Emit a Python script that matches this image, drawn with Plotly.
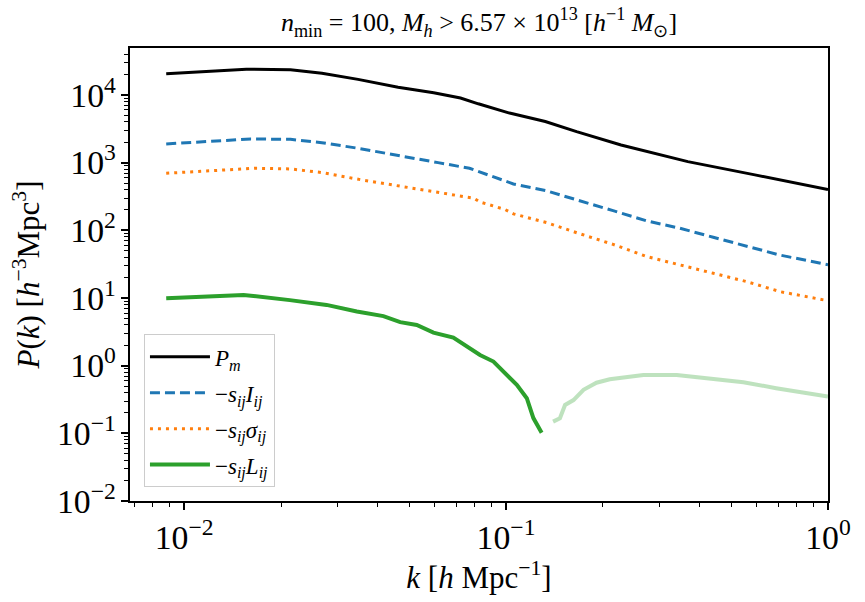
import plotly.graph_objects as go

# ---- data ----
k_pm = [0.0088, 0.0156, 0.0214, 0.0268, 0.0347, 0.0462, 0.0596, 0.0722, 0.082,
        0.1025, 0.1324, 0.1656, 0.2276, 0.367, 0.593, 1.0]
p_pm = [20500, 24000, 23500, 21000, 17000, 13000, 10800, 9000, 7400,
        5400, 4060, 2870, 1820, 1035, 660, 400]

k_I = [0.0088, 0.0161, 0.0214, 0.0268, 0.0347, 0.0462, 0.0615, 0.077, 0.083, 0.0962,
       0.1054, 0.133, 0.170, 0.215, 0.273, 0.347, 0.44, 0.56, 0.71, 1.0]
p_I = [1890, 2240, 2210, 1970, 1630, 1260, 1000, 826, 730, 570,
       484, 385, 275, 195, 138, 107, 79, 57.5, 43, 31]

k_sig = [0.0088, 0.0166, 0.0214, 0.0268, 0.0357, 0.049, 0.0636, 0.0794, 0.083, 0.099,
         0.1054, 0.1337, 0.170, 0.215, 0.273, 0.347, 0.44, 0.56, 0.71, 1.0]
p_sig = [697, 826, 807, 713, 555, 432, 360, 298, 262, 204,
         175, 130, 88.5, 62, 41, 30.5, 23.2, 17.4, 12.4, 9.1]

k_L_neg = [0.0088, 0.0153, 0.0213, 0.0277, 0.0344, 0.0416, 0.0469, 0.0528, 0.0595,
           0.0686, 0.083, 0.0914, 0.108, 0.116, 0.1216, 0.129]
p_L_neg = [9.9, 11.1, 9.3, 7.9, 6.3, 5.4, 4.4, 4.0, 3.08,
           2.6, 1.44, 1.15, 0.52, 0.33, 0.168, 0.102]

k_L_pos = [0.140, 0.147, 0.1525, 0.162, 0.174, 0.191, 0.21, 0.267, 0.339,
           0.43, 0.546, 0.69, 1.0]
p_L_pos = [0.149, 0.167, 0.263, 0.31, 0.44, 0.56, 0.63, 0.73, 0.73,
           0.65, 0.57, 0.465, 0.35]

# tick labels for decades 10^0 and 10^1 (others are rendered as powers of ten)
tick_alias = {"1": "10<sup>0</sup>", "10": "10<sup>1</sup>"}

FONT = "Liberation Serif"

fig = go.Figure()
fig.add_trace(go.Scatter(x=k_pm, y=p_pm, mode="lines", name="<i>P<sub>m</sub></i>",
                         legendgroup="a", line=dict(color="black", width=3)))
fig.add_trace(go.Scatter(x=k_I, y=p_I, mode="lines", name="\u2212<i>s<sub>ij</sub>I<sub>ij</sub></i>",
                         legendgroup="b", line=dict(color="#1f77b4", width=3, dash="10px,5px")))
fig.add_trace(go.Scatter(x=k_sig, y=p_sig, mode="lines", name="\u2212<i>s<sub>ij</sub>\u03c3<sub>ij</sub></i>",
                         legendgroup="c", line=dict(color="#ff7f0e", width=3, dash="3px,5px")))
fig.add_trace(go.Scatter(x=k_L_neg, y=p_L_neg, mode="lines", name="\u2212<i>s<sub>ij</sub>L<sub>ij</sub></i>",
                         legendgroup="d", line=dict(color="#2ca02c", width=4)))
fig.add_trace(go.Scatter(x=k_L_pos, y=p_L_pos, mode="lines", showlegend=False, opacity=0.3,
                         legendgroup="d", line=dict(color="#2ca02c", width=4)))

axis_common = dict(
    showline=True, linecolor="black", linewidth=1.5, mirror=True,
    tickmode="linear", tick0=0, dtick=1, exponentformat="power", showexponent="all",
    labelalias=tick_alias,
    ticks="outside", ticklen=7, tickwidth=1.5, tickcolor="black",
    showgrid=False, zeroline=False,
    tickfont=dict(family=FONT, size=27, color="black"),
    minor=dict(ticks="outside", ticklen=4, tickwidth=1,
               tickcolor="black", showgrid=False),
)

fig.update_xaxes(type="log", range=[-2.168, 0],
                 title=dict(text="<i>k</i> [<i>h</i> Mpc<sup>\u22121</sup>]",
                            font=dict(family=FONT, size=31, color="black"), standoff=8),
                 **axis_common)
fig.update_yaxes(type="log", range=[-2, 4.694],
                 title=dict(text="<i>P</i>(<i>k</i>) [<i>h</i><sup>\u22123</sup>Mpc<sup>3</sup>]",
                            font=dict(family=FONT, size=31, color="black"), standoff=8),
                 **axis_common)

fig.update_layout(
    width=865, height=602,
    margin=dict(l=130, r=37, t=48, b=101),
    plot_bgcolor="white", paper_bgcolor="white",
    title=dict(text="<i>n</i><sub>min</sub> = 100, <i>M<sub>h</sub></i> > 6.57 \u00d7 10<sup>13</sup> [<i>h</i><sup>\u22121</sup> <i>M</i><sub>\u2299</sub>]",
               x=0.5538, xanchor="center", y=0.963, yanchor="middle",
               font=dict(family=FONT, size=26, color="black")),
    legend=dict(x=0.02, y=0.03, xanchor="left", yanchor="bottom",
                bgcolor="rgba(255,255,255,0.8)", bordercolor="#cccccc", borderwidth=1,
                font=dict(family=FONT, size=23, color="black"),
                itemwidth=60, tracegroupgap=3),
    showlegend=True,
)

fig.write_html("out.html")
